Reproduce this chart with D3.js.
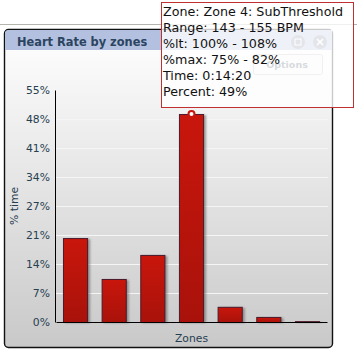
<!DOCTYPE html>
<html><head><meta charset="utf-8">
<script src="https://cdn.jsdelivr.net/npm/d3@7"></script>
<style>html,body{margin:0;padding:0;background:#fff;overflow:hidden}svg{display:block}</style>
</head><body><svg id="c" width="357" height="351"></svg>
<script>
const categories = ["Zone 1","Zone 2","Zone 3","Zone 4","Zone 5","Zone 6","Zone 7"];
const percentTime = [19.9, 10.2, 15.9, 49.3, 3.6, 1.2, 0.2];
const tickValues = [0, 6.875, 13.75, 20.625, 27.5, 34.375, 41.25, 48.125, 55];
const tickLabels = ["0%","7%","14%","21%","27%","34%","41%","48%","55%"];
const chartTitle = "Heart Rate by zones";
const xTitle = "Zones", yTitle = "% time";
const tooltipLines = ["Zone: Zone 4: SubThreshold","Range: 143 - 155 BPM","%lt: 100% - 108%","%max: 75% - 82%","Time: 0:14:20","Percent: 49%"];
const highlighted = 3;

const svg = d3.select("#c");
const defs = svg.append("defs");
const lg = (id, stops) => { const g = defs.append("linearGradient").attr("id", id).attr("x1",0).attr("y1",0).attr("x2",0).attr("y2",1);
  stops.forEach(([o,c]) => g.append("stop").attr("offset",o).attr("stop-color",c)); };
lg("bg", [[0,"#ffffff"],[1,"#c9c9c9"]]);
lg("bar", [[0,"#c9160c"],[1,"#a8120a"]]);
const f = defs.append("filter").attr("id","sh").attr("x","-20%").attr("y","-20%").attr("width","150%").attr("height","150%");
f.append("feGaussianBlur").attr("stdDeviation",1.2);

const font = "'DejaVu Sans', Verdana, sans-serif";
const ink = "#274050";
// window frame
svg.append("line").attr("x1",0).attr("x2",357).attr("y1",24.5).attr("y2",24.5).attr("stroke","#b5b5b0");
svg.append("rect").attr("x",4.5).attr("y",29.5).attr("width",328).attr("height",318).attr("rx",4).attr("fill","url(#bg)").attr("stroke","#111").attr("stroke-width",1.4);
svg.append("path").attr("d","M5,50V34a4,4 0 0 1 4,-4H332V50Z").attr("fill","#b4c0e0");
svg.append("text").attr("x",17).attr("y",46).attr("font-family",font).attr("font-size",11.4).attr("font-weight","bold").attr("fill","#2b4560").text(chartTitle);
// header buttons, seen through the tooltip
svg.append("circle").attr("cx",298).attr("cy",42).attr("r",7).attr("fill","#7f8a9e");
svg.append("circle").attr("cx",320).attr("cy",42).attr("r",7).attr("fill","#7f8a9e");
svg.append("rect").attr("x",295).attr("y",39).attr("width",6).attr("height",6).attr("fill","none").attr("stroke","#fff");
svg.append("path").attr("d","M317,39L323,45M323,39L317,45").attr("stroke","#fff").attr("stroke-width",1.5);
svg.append("rect").attr("x",253.5).attr("y",54.5).attr("width",69).attr("height",20).attr("rx",2).attr("fill","#f4f4f4").attr("stroke","#bbbbbb");
svg.append("text").attr("x",287).attr("y",68).attr("text-anchor","middle").attr("font-family",font).attr("font-size",9.5).attr("font-weight","bold").attr("fill","#445566").text("Options");

const x = d3.scaleBand().domain(categories).range([56,327]).paddingInner(0.35).paddingOuter(0.18);
const y = d3.scaleLinear().domain([0,55]).range([322,90]);

svg.append("g").selectAll("line").data(tickValues.slice(1)).join("line")
  .attr("x1",56).attr("x2",328).attr("y1",d=>Math.round(y(d))+.5).attr("y2",d=>Math.round(y(d))+.5).attr("stroke","#f5f5f5");

const bars = svg.append("g").selectAll("g").data(percentTime).join("g");
bars.append("rect").attr("x",(d,i)=>x(categories[i])+2).attr("y",d=>y(d)+1).attr("width",x.bandwidth()).attr("height",d=>322-y(d)).attr("fill","#555").attr("opacity",.55).attr("filter","url(#sh)");
bars.append("rect").attr("x",(d,i)=>x(categories[i])+.5).attr("y",d=>y(d)+.5).attr("width",x.bandwidth()-1).attr("height",d=>322-y(d)).attr("fill","url(#bar)").attr("stroke","#4a1a2a");

const yAxis = d3.axisLeft(y).tickValues(tickValues).tickSize(0).tickPadding(5).tickFormat((d,i)=>tickLabels[i]);
const ya = svg.append("g").attr("transform","translate(55,0)").call(yAxis);
ya.select(".domain").attr("stroke","#000");
ya.selectAll("text").attr("font-family",font).attr("font-size",10.8).attr("fill",ink);
const xAxis = d3.axisBottom(x).tickSize(0).tickFormat("");
const xa = svg.append("g").attr("transform","translate(0,322)").call(xAxis);
xa.select(".domain").attr("stroke","#000");

svg.append("text").attr("transform","translate(18,206) rotate(-90)").attr("text-anchor","middle").attr("font-family",font).attr("font-size",10.8).attr("fill",ink).text(yTitle);
svg.append("text").attr("x",191.5).attr("y",342).attr("text-anchor","middle").attr("font-family",font).attr("font-size",10.8).attr("fill",ink).text(xTitle);

// highlighted point
svg.append("circle").attr("cx",x(categories[highlighted])+x.bandwidth()/2).attr("cy",y(percentTime[highlighted])).attr("r",3).attr("fill","#fff").attr("stroke","#c9160c").attr("stroke-width",2);

// tooltip
const tip = svg.append("g");
tip.append("rect").attr("x",161.5).attr("y",2.5).attr("width",192).attr("height",105).attr("fill","#fff").attr("fill-opacity",.78).attr("stroke","#c03030");
tip.selectAll("text").data(tooltipLines).join("text").attr("x",163).attr("y",(d,i)=>16+i*16).attr("font-family",font).attr("font-size",12.7).attr("fill","#111").text(d=>d);
</script></body></html>
